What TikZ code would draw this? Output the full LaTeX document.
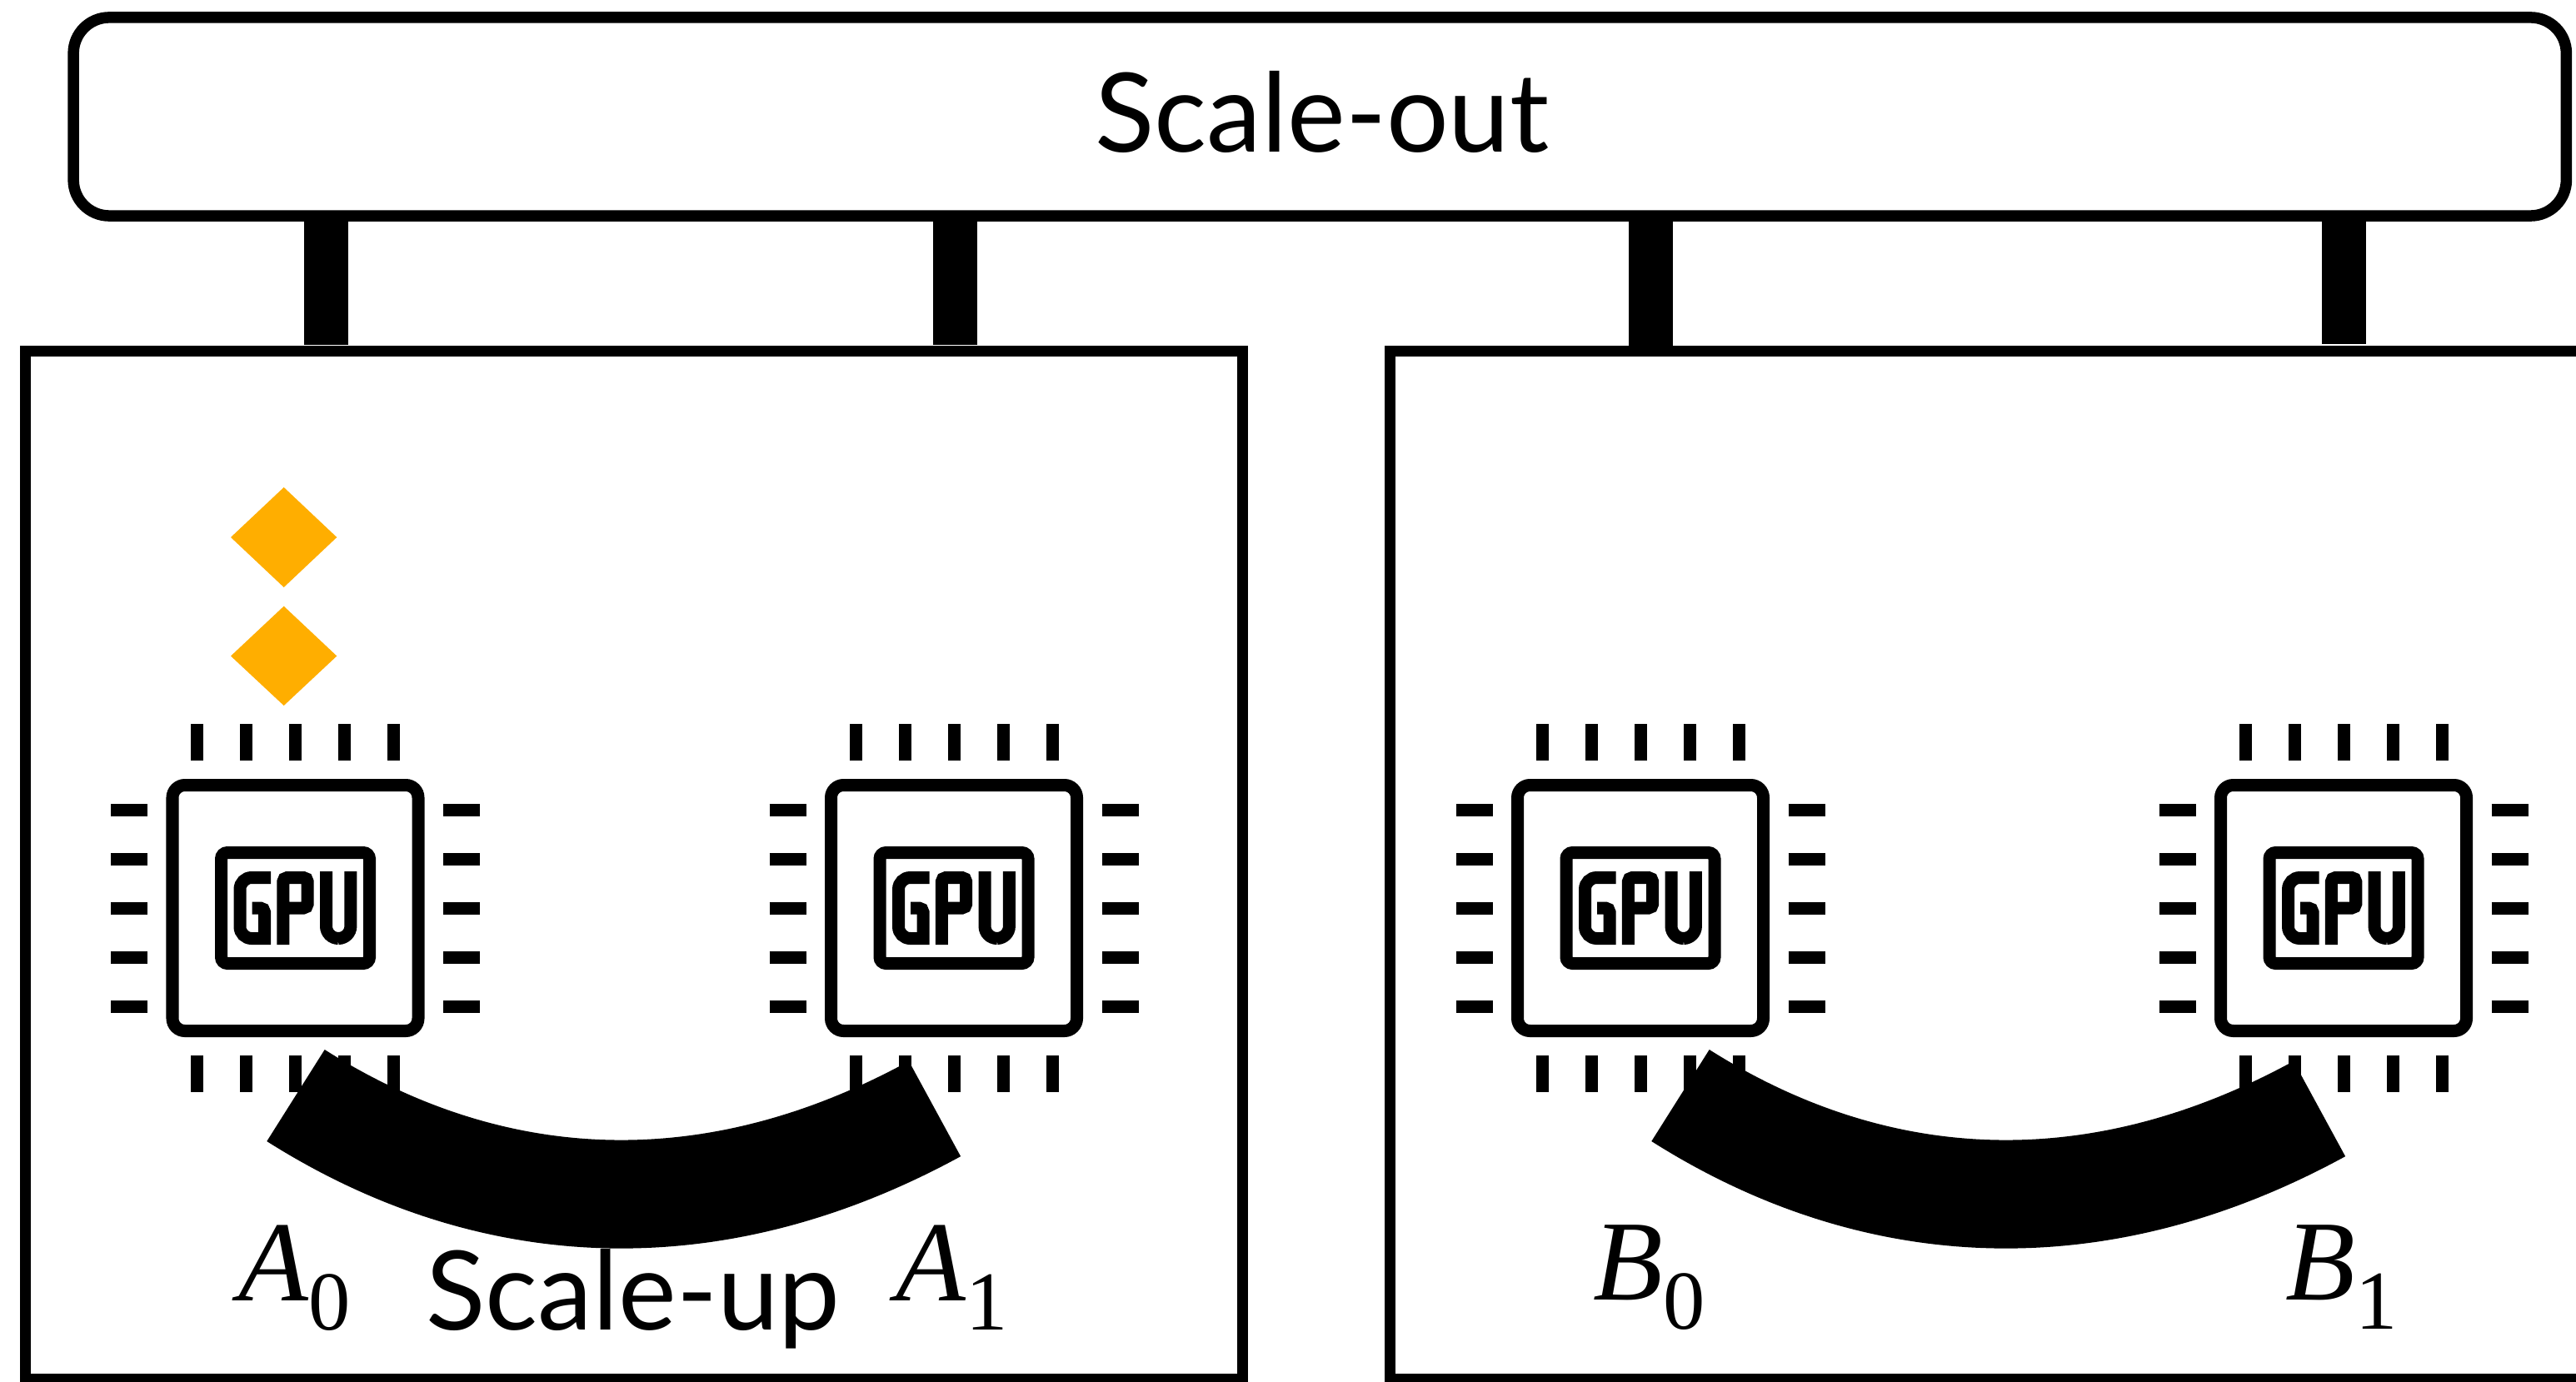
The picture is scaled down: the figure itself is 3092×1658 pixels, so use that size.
\documentclass[tikz,border=0pt]{standalone}
\usepackage{fontspec}
\setmainfont{Liberation Serif}
\newfontfamily\labelfont{Lato}
\definecolor{diamondorange}{HTML}{FFAE00}
\newcommand{\gpulabel}[2]{\textit{#1}\raisebox{-0.35cm}{\fontsize{28.6pt}{30pt}\selectfont #2}}
\tikzset{gpuchip/.pic={
    \draw[chipline, rounded corners=0.15cm] (-147.5,-147.5) rectangle (147.5,147.5);
    \draw[chipline, rounded corners=0.075cm] (-89,-66.5) rectangle (89,66.5);
    \foreach \d in {-118,-59,0,59,118} {
        \draw[chippin] (\d,-221) -- (\d,-177);
        \draw[chippin] (\d,177) -- (\d,221);
        \draw[chippin] (-221.5,\d) -- (-177.5,\d);
        \draw[chippin] (177.5,\d) -- (221.5,\d);
    }
    % G, P, U
    \draw[chipline] (-29.5,-36.5) [rounded corners=0.14cm] -- (-66.5,-36.5) -- (-66.5,36.5) [sharp corners] -- (-37,36.5) [rounded corners=0.05cm] -- (-37,0) -- (-52,0);
    \draw[chipline] (-14.7,44) [rounded corners=0.05cm] -- (-14.7,-36.5) -- (14.7,-36.5) -- (14.7,0) -- (-14.7,0);
    \draw[chipline, rounded corners=0.147cm] (37,-44) -- (37,36.5) -- (66.4,36.5) -- (66.4,-44);
}}

\begin{document}
\begin{tikzpicture} [x=0.01cm, y=-0.01cm,
                     chipline/.style={line width=0.15cm},
                     chippin/.style={line width=0.15cm},
                     framebox/.style={draw, line width=0.135cm, inner sep=0pt},
                     pile/.style={line width=0.53cm},
                     band/.style={line width=1.3cm},
                     bigtext/.style={font=\labelfont\fontsize{37.5pt}{40pt}\selectfont, anchor=base, inner sep=0pt},
                     gputext/.style={font=\fontsize{39pt}{42pt}\selectfont, anchor=base west, inner sep=0pt}]
    \useasboundingbox (0,0) rectangle (3092,1658);

    \node[framebox, rounded corners=0.43cm, minimum width=29.905cm, minimum height=2.38cm] (scaleout) at (1584.25,140) {};
    \node[framebox, minimum width=14.6cm, minimum height=12.33cm] (serverA) at (761,1038.5) {};
    \node[framebox, minimum width=14.51cm, minimum height=12.33cm] (serverB) at (2394.5,1038.5) {};
    \node[bigtext] (outlabel) at (1587,183) {Scale-out};
    \node[bigtext] (uplabel) at (760,1596) {Scale-up};

    \coordinate (p1) at (391.5,414);
    \coordinate (p2) at (1146.5,414);
    \coordinate (p3) at (1981,416);
    \coordinate (p4) at (2813.5,413);
    \foreach \p in {p1,p2,p3,p4}
        \draw[pile] (\p |- scaleout.south) -- (\p);

    \foreach \name/\cx in {a0/354.5, a1/1145, b0/1969, b1/2813}
        \pic (\name) at (\cx,1090) {gpuchip};

    \fill[diamondorange] (340.7,585) -- (404.3,645) -- (340.7,705) -- (277,645) -- cycle;
    \fill[diamondorange] (340.7,727.7) -- (404.3,787.5) -- (340.7,847) -- (277,787.5) -- cycle;

    \coordinate (linkA0) at (355,1315);
    \coordinate (linkA1) at (1122,1331);
    \coordinate (linkB0) at (2017,1315);
    \coordinate (linkB1) at (2784,1331);
    \draw[band] (linkA0) .. controls +(232,147) and +(-269,147) .. (linkA1);
    \draw[band] (linkB0) .. controls +(232,147) and +(-269,147) .. (linkB1);

    \node[gputext] (labelA0) at (286,1561) {\gpulabel{A}{0}};
    \node[gputext] (labelA1) at (1075,1561) {\gpulabel{A}{1}};
    \node[gputext] (labelB0) at (1912,1560) {\gpulabel{B}{0}};
    \node[gputext] (labelB1) at (2743,1560) {\gpulabel{B}{1}};
\end{tikzpicture}
\end{document}
